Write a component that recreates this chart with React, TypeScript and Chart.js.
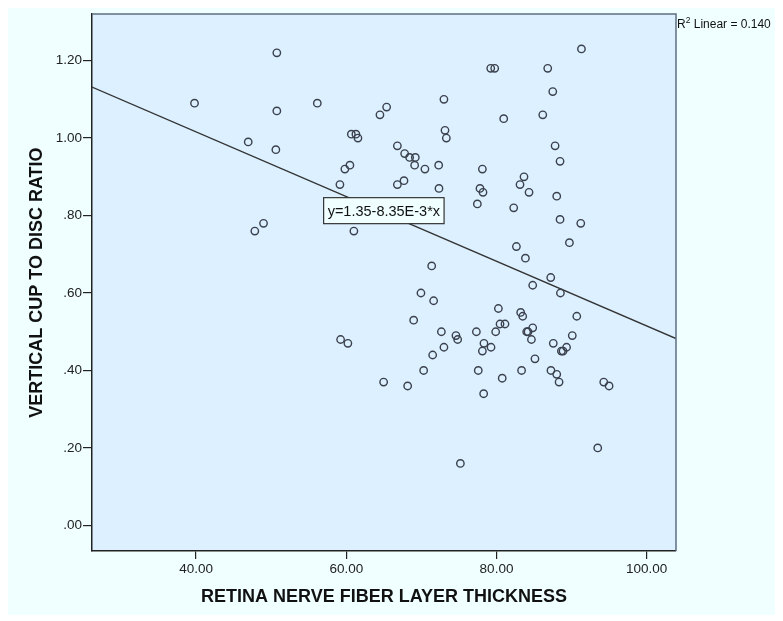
import React, { useEffect, useRef } from "react";
import { Chart, registerables } from "chart.js";
Chart.register(...registerables);

// RETINA NERVE FIBER LAYER THICKNESS (x) and VERTICAL CUP TO DISC RATIO (y)
const rnflThickness = [
  50.75, 39.79, 50.75, 46.94, 50.62, 48.98, 47.82,
  56.14, 65.37, 64.48, 73.0, 60.67, 61.28, 61.55, 73.14, 73.32, 66.8, 67.77, 68.43, 69.19,
  69.1, 70.47, 72.3, 60.48, 59.81, 59.15, 66.8, 67.68, 72.34, 61.01,
  91.31, 79.23, 79.76, 86.82, 87.49, 86.16, 80.96, 87.8, 88.46, 78.12,
  83.66, 83.13, 77.8, 78.2, 84.33, 77.45, 82.29, 88.02, 88.46, 91.22,
  59.24, 60.21, 64.97,
  82.65, 89.71, 83.85, 71.37, 87.22, 84.82, 88.51, 69.94, 71.63, 80.25,
  83.22, 83.49, 90.69, 68.97, 80.47, 81.13, 72.66, 77.32, 79.89, 84.02,
  84.2, 84.82, 74.6, 74.83, 78.33, 84.65, 90.09, 87.56, 89.33, 73.0,
  78.12, 79.27, 88.64, 88.86, 71.5, 70.3, 77.57, 85.12, 83.34, 80.76,
  87.25, 88.02, 88.33, 68.17, 78.29,
  75.19, 93.48, 94.99, 94.28,
];
const cupDiscRatio = [
  1.22, 1.09, 1.07, 0.99, 0.97, 0.78, 0.76,
  1.09, 1.08, 1.06, 1.1, 1.01, 1.01, 1.0, 1.02, 1.0, 0.98, 0.96, 0.95, 0.95,
  0.93, 0.92, 0.93, 0.93, 0.92, 0.88, 0.88, 0.89, 0.87, 0.76,
  1.23, 1.18, 1.18, 1.18, 1.12, 1.06, 1.05, 0.98, 0.94, 0.92,
  0.9, 0.88, 0.87, 0.86, 0.86, 0.83, 0.82, 0.85, 0.79, 0.78,
  0.48, 0.47, 0.37,
  0.72, 0.73, 0.69, 0.67, 0.64, 0.62, 0.6, 0.6, 0.58, 0.56,
  0.55, 0.54, 0.54, 0.53, 0.52, 0.52, 0.5, 0.5, 0.5, 0.5,
  0.5, 0.51, 0.49, 0.48, 0.47, 0.48, 0.49, 0.47, 0.46, 0.46,
  0.45, 0.46, 0.45, 0.45, 0.44, 0.4, 0.4, 0.43, 0.4, 0.38,
  0.4, 0.39, 0.37, 0.36, 0.34,
  0.16, 0.2, 0.36, 0.37,
];

const xTickValues = [40, 60, 80, 100];
const xTickLabels = ["40.00", "60.00", "80.00", "100.00"];
const yTickValues = [0, 0.2, 0.4, 0.6, 0.8, 1.0, 1.2];
const yTickLabels = [".00", ".20", ".40", ".60", ".80", "1.00", "1.20"];

const xAxisMin = 26.14;
const xAxisMax = 103.9;
const yAxisMin = -0.066;
const yAxisMax = 1.32;

const fitIntercept = 1.35;
const fitSlope = -8.35e-3;
const rSquaredText = "0.140";
const equationText = "y=1.35-8.35E-3*x";
const equationAnchor = { x: 65.0, y: 0.81 };

const xTitle = "RETINA NERVE FIBER LAYER THICKNESS";
const yTitle = "VERTICAL CUP TO DISC RATIO";

const FONT = "'Liberation Sans', Arial, sans-serif";

export default function App() {
  const ref = useRef<HTMLCanvasElement>(null);

  useEffect(() => {
    const canvas = ref.current;
    if (!canvas) return;

    const decorPlugin = {
      id: "decorPlugin",
      beforeDraw(chart: any) {
        const { ctx, chartArea: a } = chart;
        ctx.save();
        ctx.fillStyle = "#DCF0FF";
        ctx.fillRect(a.left, a.top, a.right - a.left, a.bottom - a.top);
        ctx.restore();
      },
      afterDraw(chart: any) {
        const { ctx, chartArea: a, scales } = chart;
        ctx.save();
        // top and right frame
        ctx.strokeStyle = "#5f6d82";
        ctx.lineWidth = 1.5;
        ctx.beginPath();
        ctx.moveTo(a.left, a.top);
        ctx.lineTo(a.right, a.top);
        ctx.lineTo(a.right, a.bottom);
        ctx.stroke();

        // R² label
        ctx.fillStyle = "#111";
        ctx.textBaseline = "alphabetic";
        ctx.textAlign = "left";
        const baseY = a.top + 14;
        let tx = a.right + 1;
        ctx.font = `12px ${FONT}`;
        ctx.fillText("R", tx, baseY);
        tx += ctx.measureText("R").width;
        ctx.font = `8.5px ${FONT}`;
        ctx.fillText("2", tx, baseY - 5);
        tx += ctx.measureText("2").width;
        ctx.font = `12px ${FONT}`;
        ctx.fillText(" Linear = " + rSquaredText, tx, baseY);

        // equation label box
        const cx = scales.x.getPixelForValue(equationAnchor.x);
        const cy = scales.y.getPixelForValue(equationAnchor.y);
        ctx.font = `14.5px ${FONT}`;
        const w = ctx.measureText(equationText).width + 8;
        const h = 26;
        ctx.fillStyle = "#F0FFFF";
        ctx.fillRect(cx - w / 2, cy - h / 2 - 1, w, h);
        ctx.strokeStyle = "#333";
        ctx.lineWidth = 1.2;
        ctx.strokeRect(cx - w / 2, cy - h / 2 - 1, w, h);
        ctx.fillStyle = "#111";
        ctx.textAlign = "center";
        ctx.textBaseline = "middle";
        ctx.fillText(equationText, cx, cy);
        ctx.restore();
      },
    };

    const points = rnflThickness.map((x, i) => ({ x, y: cupDiscRatio[i] }));
    const fitLine = [
      { x: xAxisMin, y: fitIntercept + fitSlope * xAxisMin },
      { x: xAxisMax, y: fitIntercept + fitSlope * xAxisMax },
    ];

    const chart = new Chart(canvas, {
      type: "scatter",
      data: {
        datasets: [
          {
            data: fitLine,
            showLine: true,
            pointRadius: 0,
            borderColor: "#333",
            borderWidth: 1.3,
            order: 2,
          } as any,
          {
            data: points,
            pointStyle: "circle",
            pointRadius: 3.7,
            pointBorderWidth: 1.4,
            pointBorderColor: "#3a404c",
            pointBackgroundColor: "rgba(0,0,0,0)",
            borderColor: "#3a404c",
            backgroundColor: "rgba(0,0,0,0)",
            order: 1,
          } as any,
        ],
      },
      options: {
        animation: false,
        responsive: false,
        events: [],
        layout: { padding: { left: 0, right: 107, top: 6, bottom: 0 } },
        plugins: { legend: { display: false }, tooltip: { enabled: false } },
        scales: {
          x: {
            type: "linear",
            min: xAxisMin,
            max: xAxisMax,
            afterBuildTicks: (s: any) => {
              s.ticks = xTickValues.map((v) => ({ value: v }));
            },
            afterFit: (s: any) => {
              s.height = 64;
            },
            ticks: {
              autoSkip: false,
              maxRotation: 0,
              padding: 2,
              color: "#222",
              font: { family: FONT, size: 13.5 },
              callback: (_v: any, i: number) => xTickLabels[i],
            },
            grid: {
              drawOnChartArea: false,
              drawTicks: true,
              tickLength: 8,
              color: "#222",
              lineWidth: 1.2,
            },
            border: { display: true, color: "#222", width: 1.5 },
            title: {
              display: true,
              text: xTitle,
              color: "#111",
              font: { family: FONT, size: 18, weight: "bold", lineHeight: 1.2 },
              padding: { top: 0, bottom: 7 },
            },
          },
          y: {
            type: "linear",
            min: yAxisMin,
            max: yAxisMax,
            afterBuildTicks: (s: any) => {
              s.ticks = yTickValues.map((v) => ({ value: v }));
            },
            afterFit: (s: any) => {
              s.width = 84;
            },
            ticks: {
              autoSkip: false,
              padding: 1,
              color: "#222",
              font: { family: FONT, size: 13.5 },
              callback: (_v: any, i: number) => yTickLabels[i],
            },
            grid: {
              drawOnChartArea: false,
              drawTicks: true,
              tickLength: 9,
              color: "#222",
              lineWidth: 1.2,
            },
            border: { display: true, color: "#222", width: 1.5 },
            title: {
              display: true,
              text: yTitle,
              color: "#111",
              font: { family: FONT, size: 18, weight: "bold", lineHeight: 1.2 },
              padding: { top: 18, bottom: 0 },
            },
          },
        },
      } as any,
      plugins: [decorPlugin],
    });

    return () => chart.destroy();
  }, []);

  return (
    <div style={{ width: 775, height: 610, marginTop: -3, background: "#F0FFFF" }}>
      <canvas ref={ref} width={775} height={610} style={{ display: "block" }} />
    </div>
  );
}
